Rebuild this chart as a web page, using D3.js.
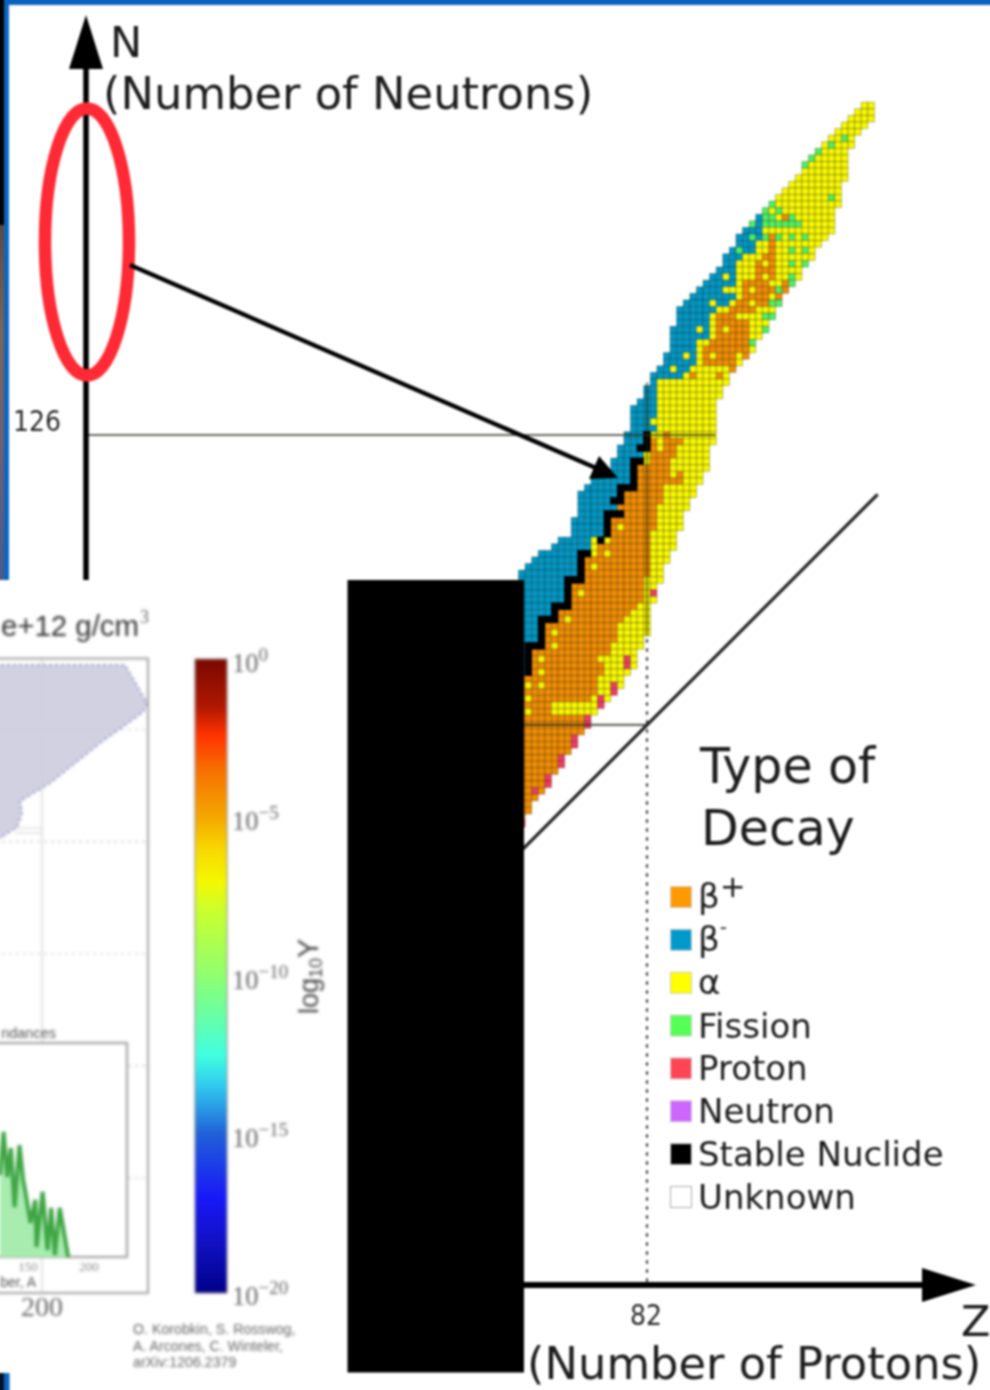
<!DOCTYPE html>
<html><head><meta charset="utf-8">
<style>html,body{margin:0;padding:0;background:#fff}svg{display:block}</style>
<script src="https://cdn.jsdelivr.net/npm/d3@7/dist/d3.min.js"></script>
</head><body><svg id="c" width="990" height="1390"></svg>
<script>
// ---------- DATA ----------
const legendLabels = ["β+","β-","α","Fission","Proton","Neutron","Stable Nuclide","Unknown"];
const legendKeys   = ["o","b","y","g","r","n","k","u"];
const legendColors = ["#ff9900","#0099cc","#ffff00","#55ff55","#ff4455","#cc66ff","#000000","#ffffff"];
const cellColors   = {o:"#f08c00",b:"#0097c4",y:"#f8f800",g:"#50f060",r:"#f03c60",k:"#000000"};
// each row: neutron number, then runs of proton number + decay type
const nuclideRows = [
[176,"115-116y"],[175,"114-116y"],[174,"113-116y"],[173,"112-115y"],[172,"111-114y"],
[171,"110-111y 112g 113y"],[170,"109y 110g 111-113y"],[169,"108g 109-112y"],[168,"107g 108-112y"],
[167,"106g 107-112y"],[166,"106-112y"],[165,"105-112y"],[164,"104-111y"],[163,"103-111y"],
[162,"102-109y 110g 111y"],[161,"101g 102-111y"],[160,"100g 101y 102g 103-110y"],
[159,"99b 100-101g 102y 103o 104g 105-110y"],[158,"98g 99b 100-105g 106-110y"],[157,"97-99b 100-110y"],
[156,"96-97b 98g 99b 100g 101o 102g 103y 104g 105y 106g 107-109y"],[155,"96-98b 99-100y 101o 102-108y"],
[154,"95b 96g 97-98b 99-100y 101o 102-103y 104g 105y 106g 107y"],[153,"94-96b 97-99y 100-101o 102-107y"],
[152,"94-95b 96-98y 99o 100y 101o 102-103y 104g 105y 106g"],[151,"93-95b 96-98y 99-101o 102-105y"],
[150,"92-93b 94y 95b 96-98y 99o 100y 101o 102-103y 104g 105y"],[149,"91-95b 96y 97-100o 101-102y 103o 104g"],
[148,"90-93b 94-96y 97o 98y 99-101o 102g 103o"],[147,"89-95b 96y 97-100o 101y 102o"],
[146,"88-91b 92y 93-94b 95y 96-97o 98y 99-100o 101-102g"],[145,"87-92b 93-94y 95-98o 99-101y"],
[144,"87-91b 92y 93-95o 96-99y 100-101g"],[143,"87-91b 92y 93-97o 98-100y"],
[142,"86-89b 90y 91b 92y 93o 94y 95-97o 98-99y 100g"],[141,"86-91b 92y 93-97o 98-99y"],
[140,"86-89b 90-91y 92-97o 98g"],[139,"86-89b 90y 91-97o 98y"],
[138,"85-87b 88y 89b 90y 91o 92y 93-95o 96y 97o"],[137,"85-89b 90y 91-95o 96y"],
[136,"84-85b 86y 87-88b 89-94y 95o"],[135,"83-87b 88y 89o 90-92y 93o 94y"],[134,"83b 84-94y"],
[133,"82-83b 84-93y"],[132,"82-83b 84-93y"],[131,"81-83b 84-92y"],[130,"80-83b 84-92y"],[129,"80-83b 84-92y"],
[128,"80-82b 83-92y"],[127,"80-83b 84-92y"],[126,"79-81b 82k 83-84y 85o 86-92y"],
[125,"79-81b 82k 83o 84y 85-87o 88-92y"],[124,"78-80b 81-82k 83o 84y 85-86o 87-91y"],
[123,"78-81b 82y 83-86o 87-91y"],[122,"77-79b 80-81k 82y 83-85o 86-91y"],[121,"77-79b 80k 81-85o 86-91y"],
[120,"76-79b 80k 81-85o 86y 87o 88-90y"],[119,"74-79b 80k 81-87o 88-90y"],[118,"73-77b 78-80k 81-84o 85-89y"],
[117,"72-77b 78k 79-84o 85-89y"],[116,"72-76b 77-78k 79-84o 85-88y"],[115,"72-77b 78-83o 84-88y"],
[114,"72-75b 76-78k 79-83o 84-87y"],[113,"71-75b 76k 77-83o 84-87y"],[112,"71-75b 76k 77o 78y 79-83o 84-87y"],
[111,"71-75b 76k 77-82o 83-86y"],[110,"69-73b 74y 75k 76y 77-82o 83-86y"],[109,"68-73b 74y 75-82o 83-86y"],
[108,"66-71b 72-73k 74y 75o 76y 77-82o 83-85y"],[107,"65-71b 72k 73-82o 83-85y"],
[106,"64-71b 72k 73o 74y 75-82o 83-84y"],[105,"63-71b 72k 73-82o 83-84y"],[104,"63-69b 70-72k 73-81o 82-84y"],
[103,"63-69b 70k 71-81o 82-83y"],[102,"63-69b 70k 71o 72y 73-81o 82y 83r"],[101,"63-69b 70k 71-81o 82-83y"],
[100,"63-67b 68-70k 71-80o 81-82y"],[99,"63-67b 68k 69-79o 80-82y"],[98,"63-65b 66-68k 69o 70y 71-78o 79-82y"],
[97,"63-65b 66k 67-77o 78-82y"],[96,"63-65b 66k 67o 68y 69-77o 78-82y"],[95,"63-65b 66k 67-77o 78-81y"],
[94,"63b 64-66k 67o 68y 69-76o 77-81y"],[93,"63b 64k 65-76o 77-80y"],[92,"63b 64k 65o 66y 67-74o 75-78y 79r 80y"],
[91,"63b 64k 65-75o 76-78y 79r 80y"],[90,"63b 64k 65o 66y 67-75o 76-79y"],[89,"63-74o 75-78y"],
[88,"63o 64y 65o 66y 67-74o 75-76y 77r 78y"],[87,"63-74o 75-76y 77r"],[86,"63o 64y 65-73o 74y 75r 76y"],
[85,"63-67o 68-74y 75r"],[84,"63o 64y 65-67o 68-74y"],[83,"63-72o 73r"],[82,"63-72o 73r"],[81,"63-72o"],
[80,"63-70o 71r"],[79,"63-70o 71r"],[78,"63-70o"],[77,"63-68o 69r"],[76,"63-68o 69r"],[75,"63-68o"],
[74,"63-66o 67r"],[73,"63-66o 67r"],[72,"63-64o 65r 66o"],[71,"63-65o"],[70,"63-64o"],[69,"63-64o"],[68,"63o"],[67,"63r"]
];
const magicN = [126,82];
const magicZ = 82;
const colorbarStops = [[0,"#7a0800"],[-1.5,"#b01800"],[-2.4,"#ff3300"],[-3.5,"#f77000"],[-5,"#f5a800"],[-6,"#f8d800"],[-7,"#f4f800"],[-8,"#c8ff30"],[-10,"#8fff70"],[-11.5,"#60ffb0"],[-12.5,"#40ffe0"],[-13.5,"#30c8f0"],[-15,"#2060d8"],[-17,"#1818f8"],[-18.5,"#1010c0"],[-20,"#00008a"]];
const colorbarTicks = [0,-5,-10,-15,-20];
const abundanceA = [127,130,133,136,139,143,146,147.5,152,156,157,162,166,169,172,176,183];
const abundanceLog = [-4.56,-3.55,-4.61,-3.93,-5.32,-3.86,-4.68,-4.9,-5.69,-5.15,-6.26,-4.96,-6.33,-5.34,-6.45,-5.34,-6.5];
const insetGridLog = [0,1,2,3,4];
const creditLines = ["O. Korobkin, S. Rosswog,","A. Arcones, C. Winteler,","arXiv:1206.2379"];

// ---------- SCALES ----------
const pitch = 6.59;
const X = d3.scaleLinear().domain([82,116]).range([647,647+34*pitch]);
const Y = d3.scaleLinear().domain([126,82]).range([435,435+44*pitch]);
const FONT = "'DejaVu Sans',sans-serif", SERIF = "'Liberation Serif',serif", HELV = "'Liberation Sans',sans-serif";

const svg = d3.select("#c");
const defs = svg.append("defs");
function blur(id,s){defs.append("filter").attr("id",id).attr("filterUnits","userSpaceOnUse").attr("x",-5).attr("y",-5).attr("width",1000).attr("height",1400)
  .attr("color-interpolation-filters","sRGB").append("feGaussianBlur").attr("stdDeviation",s);}
blur("soft",0.95); blur("softer",1.15);
const sg = defs.append("linearGradient").attr("id","strip").attr("x1",0).attr("x2",0).attr("y1",0).attr("y2",1);
[[0,"#5a4a42"],[.3,"#7c6458"],[.62,"#706070"],[1,"#4a5a88"]].forEach(d=>sg.append("stop").attr("offset",d[0]).attr("stop-color",d[1]));

const root = svg.append("g").attr("filter","url(#soft)");
root.append("rect").attr("x",-5).attr("y",-5).attr("width",1000).attr("height",1400).attr("fill","#fff");

// frame
root.append("rect").attr("x",-5).attr("y",-5).attr("width",9).attr("height",230).attr("fill","#000");
root.append("rect").attr("x",-5).attr("y",225).attr("width",9).attr("height",355).attr("fill","url(#strip)");
root.append("rect").attr("x",4).attr("y",-5).attr("width",5).attr("height",585).attr("fill","#0a66c2");
root.append("rect").attr("x",4).attr("y",-5).attr("width",1000).attr("height",10).attr("fill","#0a62bf");

// cells
const cells = [];
nuclideRows.forEach(([n,s])=>s.split(" ").forEach(tok=>{
  const m = tok.match(/^(\d+)(?:-(\d+))?([a-z])$/);
  const a=+m[1], b=m[2]?+m[2]:a;
  for(let z=a;z<=b;z++) cells.push({n,z,t:m[3]});
}));
root.append("g").selectAll("rect").data(cells).join("rect")
  .attr("x",d=>X(d.z)-pitch/2).attr("y",d=>Y(d.n)-pitch/2)
  .attr("width",pitch).attr("height",pitch)
  .attr("fill",d=>cellColors[d.t]).attr("stroke",d=>d.t==="k"?"#000":"rgba(0,0,0,0.3)").attr("stroke-width",0.9);
root.append("g").selectAll("rect").data(cells.filter(d=>d.t==="k")).join("rect")
  .attr("x",d=>X(d.z)-pitch/2-.3).attr("y",d=>Y(d.n)-pitch/2-.3).attr("width",pitch+.6).attr("height",pitch+.6).attr("fill","#000");

// magic lines
root.append("line").attr("x1",X(magicZ)).attr("x2",X(magicZ)).attr("y1",Y(134)).attr("y2",Y(95.5)).attr("stroke","rgba(30,30,0,0.45)").attr("stroke-width",2.6);
root.append("line").attr("x1",X(magicZ)).attr("x2",X(magicZ)).attr("y1",Y(95)).attr("y2",1285).attr("stroke","#444").attr("stroke-width",2.2).attr("stroke-dasharray","3.5 5.5");
root.selectAll("line.magic").data(magicN).join("line").attr("class","magic")
  .attr("x1",86).attr("x2",d=>d===126?X(92.4):X(82)).attr("y1",d=>Y(d)).attr("y2",d=>Y(d))
  .attr("stroke","rgba(40,40,30,0.7)").attr("stroke-width",2.2);
// N = Z diagonal
root.append("line").attr("x1",X(20)).attr("y1",Y(20)).attr("x2",X(117)).attr("y2",Y(117)).attr("stroke","#222").attr("stroke-width",3.2);

// axes
root.append("line").attr("x1",86).attr("x2",86).attr("y1",60).attr("y2",600).attr("stroke","#000").attr("stroke-width",5.5);
root.append("path").attr("d","M86 15L103 69L69 69Z").attr("fill","#000");
root.append("line").attr("x1",500).attr("x2",930).attr("y1",1285).attr("y2",1285).attr("stroke","#000").attr("stroke-width",6);
root.append("path").attr("d","M976 1285L922 1268L922 1302Z").attr("fill","#000");

// ellipse and pointer
root.append("ellipse").attr("cx",87).attr("cy",242).attr("rx",42).attr("ry",133.5).attr("fill","none").attr("stroke","#ff2a35").attr("stroke-width",12.5);
root.append("line").attr("x1",130).attr("y1",265).attr("x2",596).attr("y2",468).attr("stroke","#000").attr("stroke-width",4.4);
root.append("path").attr("d","M618 478L599 456L589 479Z").attr("fill","#000");

// main text
function txt(g,s,x,y,size,fill,font,anchor){return g.append("text").attr("x",x).attr("y",y).attr("font-size",size).attr("fill",fill||"#1c1c1c").attr("font-family",font||FONT).attr("text-anchor",anchor||"start").text(s);}
txt(root,"N",110,57,43);
txt(root,"(Number of Neutrons)",103,109,44.8);
txt(root,"126",13,431,29,"#2a2a2a").attr("textLength",48).attr("lengthAdjust","spacingAndGlyphs");
txt(root,"82",630,1325,29,"#2a2a2a").attr("textLength",32).attr("lengthAdjust","spacingAndGlyphs");
txt(root,"Z",961,1336,43);
txt(root,"(Number of Protons)",527,1379,44.8);
txt(root,"Type of",700,783,49);
txt(root,"Decay",701,845,49);

// legend
const legY = d3.scalePoint().domain(legendKeys).range([897,1197]);
const leg = root.append("g");
leg.selectAll("rect").data(legendKeys).join("rect")
  .attr("x",670.5).attr("y",k=>legY(k)-10.5).attr("width",21).attr("height",21)
  .attr("fill",(k,i)=>legendColors[i]).attr("stroke",k=>k==="u"?"#aaa":"#ccc").attr("stroke-width",1);
leg.selectAll("text").data(legendLabels).join("text")
  .attr("x",698).attr("y",(d,i)=>legY(legendKeys[i])+(i<3?11:12)).attr("font-family",FONT).attr("font-size",34).attr("fill","#1c1c1c")
  .each(function(d){
    const s=d3.select(this);
    if(d==="β+"){s.append("tspan").text("β");s.append("tspan").attr("font-size",31).attr("dy",-11).text("+");}
    else if(d==="β-"){s.append("tspan").text("β");s.append("tspan").attr("font-size",20).attr("dy",-17).text("-");}
    else s.text(d);
  });

// inset
root.append("rect").attr("x",-5).attr("y",580).attr("width",353).attr("height",792).attr("fill","#fff");
const inset = root.append("g").attr("filter","url(#softer)");
const frame = {x1:-10,x2:148,y1:658.5,y2:1293};
const gridLine = d3.scaleLinear().domain([0,4]).range([729.5,1178]);
inset.append("path").attr("d","M-5 665L125 665L147 703L143 712L100 743L50 783L22 800L20 800L22 813L17 827L0 838L-5 838Z")
  .attr("fill","#d2d1e2").attr("stroke","#9a9ac8").attr("stroke-width",2).attr("stroke-dasharray","3 3");
inset.append("line").attr("x1",42).attr("x2",42).attr("y1",frame.y1).attr("y2",frame.y2).attr("stroke","#d0d0d0").attr("stroke-width",1.2);
inset.selectAll("line.g").data(insetGridLog).join("line").attr("class","g")
  .attr("x1",-5).attr("x2",148).attr("y1",gridLine).attr("y2",gridLine).attr("stroke","#c8c8c8").attr("stroke-width",1.2).attr("stroke-dasharray","3 4");
inset.append("path").attr("d","M15 828L42 828M15 833L42 833").attr("stroke","#ccc").attr("fill","none");
inset.append("rect").attr("x",frame.x1).attr("y",frame.y1).attr("width",frame.x2-frame.x1).attr("height",frame.y2-frame.y1).attr("fill","none").attr("stroke","#a0a0a0").attr("stroke-width",2);
txt(inset,"e+12 g/cm",139,636,29.4,"#333",HELV,"end");
txt(inset,"3",140,623,18,"#666",SERIF);
txt(inset,"200",42,1316,28,"#666",SERIF,"middle");

// abundance mini plot
const aX = d3.scaleLinear().domain([150,200]).range([28,89]);
const aY = d3.scaleLinear().domain([-6,-2]).range([1236,1066]);
const base = aY(-6.5);
inset.append("rect").attr("x",-10).attr("y",1043).attr("width",137).attr("height",214).attr("fill","#fff").attr("stroke","#a0a0a0").attr("stroke-width",2.2);
const pts = abundanceA.map((a,i)=>[a,abundanceLog[i]]);
inset.append("path").attr("d",d3.area().x(d=>aX(d[0])).y0(base).y1(d=>aY(d[1]))(pts)).attr("fill","#a8ecb0");
inset.append("path").attr("d",d3.line().x(d=>aX(d[0])).y(d=>aY(d[1]))(pts)).attr("fill","none").attr("stroke","#3fa544").attr("stroke-width",4);
txt(inset,"ndances",56,1038,14.5,"#555",HELV,"end");
[150,200].forEach(a=>txt(inset,a,aX(a),1271,13,"#888",SERIF,"middle"));
txt(inset,"ber, A",36,1287,14,"#555",HELV,"end");

// colorbar
const cY = d3.scaleLinear().domain([0,-20]).range([659,1293]);
const labelY = d3.scaleLinear().domain([0,-20]).range([672,1305]);
const cg = defs.append("linearGradient").attr("id","cb").attr("x1",0).attr("x2",0).attr("y1",0).attr("y2",1);
colorbarStops.forEach(d=>cg.append("stop").attr("offset",(cY(d[0])-659)/634).attr("stop-color",d[1]));
inset.append("rect").attr("x",195).attr("y",659).attr("width",32).attr("height",634).attr("fill","url(#cb)").attr("stroke","#888").attr("stroke-width",1);
colorbarTicks.forEach(t=>{
  const tx = inset.append("text").attr("x",232).attr("y",labelY(t)).attr("font-family",SERIF).attr("font-size",26.5).attr("fill","#666");
  tx.append("tspan").text("10");
  tx.append("tspan").attr("font-size",19).attr("dy",-11).text(t===0?"0":"−"+(-t));
});
const yl = inset.append("text").attr("transform","translate(318,1014) rotate(-90)").attr("font-family",HELV).attr("font-size",27).attr("fill","#444");
yl.append("tspan").text("log");
yl.append("tspan").attr("font-size",18).attr("dy",4).text("10");
yl.append("tspan").attr("font-size",29).attr("dy",-4).text("Y");
creditLines.forEach((s,i)=>txt(inset,s,133,1334+i*16.5,14.2,"#666",HELV));

// black panel and bottom-left corner
root.append("rect").attr("x",347.5).attr("y",580).attr("width",176.5).attr("height",792.5).attr("fill","#000");
root.append("rect").attr("x",-5).attr("y",1373).attr("width",9).attr("height",25).attr("fill","#06122a");
root.append("rect").attr("x",4).attr("y",1373).attr("width",5.5).attr("height",25).attr("fill","#0a66c2");
</script></body></html>
